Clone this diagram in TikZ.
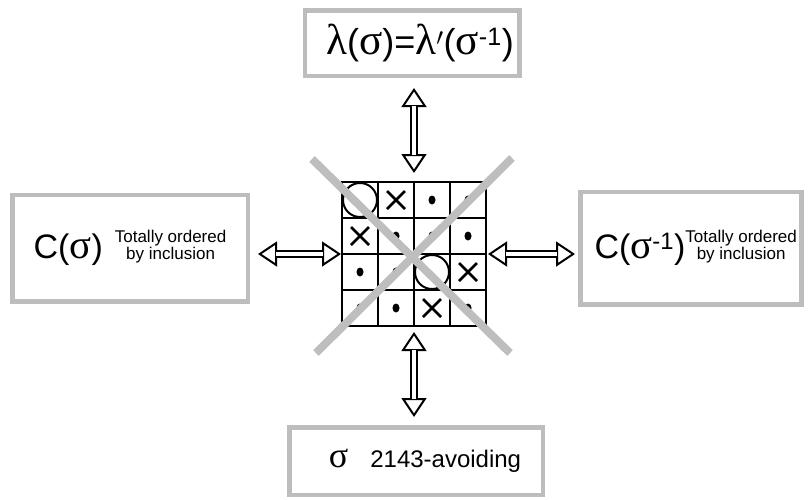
\documentclass[tikz,border=0pt]{standalone}
\usepackage{fontspec}
\setmainfont{Liberation Sans}
\newfontfamily\greekfont[Scale=1.2]{Liberation Serif}
\usepackage{tikz}
\usetikzlibrary{arrows.meta,positioning,calc}
\definecolor{boxgray}{HTML}{BDBDBD}
\definecolor{crossgray}{HTML}{BEBEBE}
\newcommand{\gk}[1]{{\greekfont #1}}
\newcommand{\smallnote}{{\fontsize{17}{16}\selectfont
  \raisebox{7pt}{\begin{tabular}{@{}c@{}}Totally ordered\\by inclusion\end{tabular}}}}

\begin{document}
\begin{tikzpicture}[
  x=1pt, y=-1pt,
  box/.style={draw=boxgray, line width=4.5pt, fill=white, align=center, inner sep=0pt},
  heads/.style={line width=2pt,
    {Triangle[open,length=19pt,width=25pt]}-{Triangle[open,length=19pt,width=25pt]}},
  shaft/.style={double=white, double distance=4.5pt, line width=2.2pt},
  cell/.style={line width=2pt},
  xmark/.style={line width=2.8pt},
  bigx/.style={crossgray, line width=8pt}
]
\useasboundingbox (0,0) rectangle (809,499);

% the 4x4 grid
\node[draw, line width=2.8pt, minimum size=144pt, inner sep=0pt, outer sep=0pt] (grid) at (414,254) {};
\foreach \i in {1,2,3} {
  \draw[cell] ($(grid.north west)+(36*\i,0)$) -- ($(grid.south west)+(36*\i,0)$);
  \draw[cell] ($(grid.north west)+(0,36*\i)$) -- ($(grid.north east)+(0,36*\i)$);
}
\draw[xmark] ($(grid.north west)+(36,0)$) -- ($(grid.south west)+(36,0)$);
\draw[xmark] ($(grid.north west)+(0,108)$) -- ($(grid.north east)+(0,108)$);

\foreach \r/\c in {1/1,3/3}
  \draw[line width=2pt] ($(grid.north west)+(36*\c-18,36*\r-18)$) circle[radius=17pt];
\foreach \r/\c in {1/2,2/1,3/4,4/3} {
  \coordinate (m) at ($(grid.north west)+(36*\c-18,36*\r-18)$);
  \draw[xmark] (m) +(-9,-9) -- +(9,9) (m) +(9,-9) -- +(-9,9);
}
\foreach \r/\c in {1/3,1/4,2/2,2/3,2/4,3/1,3/2,4/1,4/2,4/4} {
  \coordinate (m) at ($(grid.north west)+(36*\c-18,36*\r-18)$);
  \fill (m) ellipse[x radius=3.5pt, y radius=4.5pt];
}

% grey cross over the grid
\draw[bigx] ($(grid.center)+(-102,-95)$) -- ($(grid.center)+(96,99)$);
\draw[bigx] ($(grid.center)+(98,-96)$) -- ($(grid.center)+(-98,99)$);

% the four boxes
\node[box, minimum width=214.5pt, minimum height=65.5pt, above=104pt of grid, xshift=-2pt] (top)
  {\hspace{16pt}\fontsize{36}{36}\selectfont\gk{λ}(\gk{σ})=\gk{λ}$'$(\gk{σ}\textsuperscript{-1})};
\node[box, minimum width=235.5pt, minimum height=106.5pt, left=92pt of grid, yshift=6pt] (left)
  {{\fontsize{34}{34}\selectfont C(\gk{σ})}\hspace{12pt}\smallnote};
\node[box, minimum width=221pt, minimum height=112.5pt, right=92pt of grid, yshift=6pt] (right)
  {\hspace{10pt}{\fontsize{34}{34}\selectfont C(\gk{σ}\textsuperscript{-1})}\smallnote};
\node[box, minimum width=253.5pt, minimum height=67.5pt, below=99pt of grid, xshift=2pt] (bottom)
  {\hspace{18pt}{\fontsize{30}{30}\selectfont\gk{σ}}\hspace{22pt}{\fontsize{24}{24}\selectfont 2143-avoiding}};

% double arrows: open heads, then the hollow shaft between them
\foreach \a/\b/\s/\t in {top.south -| grid.north/grid.north/10pt/9pt,
                         left.east |- grid.west/grid.west/8pt/1pt,
                         grid.east/right.west |- grid.east/2pt/3pt,
                         grid.south/bottom.north -| grid.south/6pt/8pt} {
  \draw[heads, shorten <=\s, shorten >=\t] (\a) -- (\b);
  \draw[shaft, shorten <=\s+18pt, shorten >=\t+18pt] (\a) -- (\b);
}
\end{tikzpicture}
\end{document}
